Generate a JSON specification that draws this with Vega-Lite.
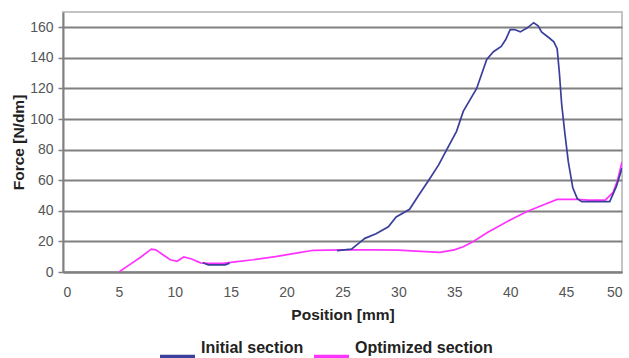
{
  "$schema": "https://vega.github.io/schema/vega-lite/v6.json",
  "width": 559,
  "height": 260,
  "autosize": "none",
  "padding": {"left": 63, "top": 12, "right": 7, "bottom": 86},
  "background": "white",
  "config": {
    "font": "Liberation Sans",
    "view": {"stroke": "#c4c4c4", "strokeWidth": 2},
    "axis": {"labelFont": "Liberation Sans", "titleFont": "Liberation Sans"}
  },
  "data": {
    "values": [
      {"series": "Optimized section", "seg": "o", "pos": 5, "force": 0},
      {"series": "Optimized section", "seg": "o", "pos": 6, "force": 5},
      {"series": "Optimized section", "seg": "o", "pos": 7, "force": 10},
      {"series": "Optimized section", "seg": "o", "pos": 7.9, "force": 15},
      {"series": "Optimized section", "seg": "o", "pos": 8.3, "force": 14.5},
      {"series": "Optimized section", "seg": "o", "pos": 9, "force": 11},
      {"series": "Optimized section", "seg": "o", "pos": 9.6, "force": 8},
      {"series": "Optimized section", "seg": "o", "pos": 10.2, "force": 7},
      {"series": "Optimized section", "seg": "o", "pos": 10.8, "force": 9.8},
      {"series": "Optimized section", "seg": "o", "pos": 11.5, "force": 8.5},
      {"series": "Optimized section", "seg": "o", "pos": 12.3, "force": 6},
      {"series": "Optimized section", "seg": "o", "pos": 13, "force": 5.7},
      {"series": "Optimized section", "seg": "o", "pos": 14.3, "force": 5.7},
      {"series": "Optimized section", "seg": "o", "pos": 15.2, "force": 6.5},
      {"series": "Optimized section", "seg": "o", "pos": 17, "force": 8},
      {"series": "Optimized section", "seg": "o", "pos": 19, "force": 10},
      {"series": "Optimized section", "seg": "o", "pos": 21, "force": 12.5},
      {"series": "Optimized section", "seg": "o", "pos": 22.4, "force": 14.2},
      {"series": "Optimized section", "seg": "o", "pos": 25, "force": 14.5},
      {"series": "Optimized section", "seg": "o", "pos": 28, "force": 14.5},
      {"series": "Optimized section", "seg": "o", "pos": 30, "force": 14.3},
      {"series": "Optimized section", "seg": "o", "pos": 32, "force": 13.5},
      {"series": "Optimized section", "seg": "o", "pos": 33.7, "force": 12.8},
      {"series": "Optimized section", "seg": "o", "pos": 35, "force": 14.5},
      {"series": "Optimized section", "seg": "o", "pos": 35.8, "force": 16.5},
      {"series": "Optimized section", "seg": "o", "pos": 36.7, "force": 20},
      {"series": "Optimized section", "seg": "o", "pos": 38, "force": 26},
      {"series": "Optimized section", "seg": "o", "pos": 40, "force": 34},
      {"series": "Optimized section", "seg": "o", "pos": 41.5, "force": 39.5},
      {"series": "Optimized section", "seg": "o", "pos": 43, "force": 44},
      {"series": "Optimized section", "seg": "o", "pos": 44.2, "force": 47.5},
      {"series": "Optimized section", "seg": "o", "pos": 46, "force": 47.5},
      {"series": "Optimized section", "seg": "o", "pos": 47, "force": 47},
      {"series": "Optimized section", "seg": "o", "pos": 48.5, "force": 47},
      {"series": "Optimized section", "seg": "o", "pos": 49.2, "force": 52},
      {"series": "Optimized section", "seg": "o", "pos": 49.6, "force": 60},
      {"series": "Optimized section", "seg": "o", "pos": 50, "force": 72},
      {"series": "Initial section", "seg": "a", "pos": 12.5, "force": 6},
      {"series": "Initial section", "seg": "a", "pos": 13, "force": 4.7},
      {"series": "Initial section", "seg": "a", "pos": 14.5, "force": 4.7},
      {"series": "Initial section", "seg": "a", "pos": 14.9, "force": 5.8},
      {"series": "Initial section", "seg": "b", "pos": 24.5, "force": 14},
      {"series": "Initial section", "seg": "b", "pos": 25.8, "force": 15},
      {"series": "Initial section", "seg": "b", "pos": 26.5, "force": 19},
      {"series": "Initial section", "seg": "b", "pos": 27, "force": 22},
      {"series": "Initial section", "seg": "b", "pos": 28, "force": 25},
      {"series": "Initial section", "seg": "b", "pos": 29.1, "force": 29.6},
      {"series": "Initial section", "seg": "b", "pos": 29.8, "force": 36},
      {"series": "Initial section", "seg": "b", "pos": 31, "force": 41},
      {"series": "Initial section", "seg": "b", "pos": 31.8, "force": 50},
      {"series": "Initial section", "seg": "b", "pos": 32.8, "force": 61},
      {"series": "Initial section", "seg": "b", "pos": 33.6, "force": 70},
      {"series": "Initial section", "seg": "b", "pos": 34.3, "force": 79.7},
      {"series": "Initial section", "seg": "b", "pos": 35.2, "force": 92},
      {"series": "Initial section", "seg": "b", "pos": 35.8, "force": 105},
      {"series": "Initial section", "seg": "b", "pos": 37, "force": 120},
      {"series": "Initial section", "seg": "b", "pos": 37.9, "force": 139},
      {"series": "Initial section", "seg": "b", "pos": 38.5, "force": 144},
      {"series": "Initial section", "seg": "b", "pos": 39.2, "force": 147.5},
      {"series": "Initial section", "seg": "b", "pos": 39.6, "force": 152},
      {"series": "Initial section", "seg": "b", "pos": 40, "force": 158.5},
      {"series": "Initial section", "seg": "b", "pos": 40.4, "force": 158.5},
      {"series": "Initial section", "seg": "b", "pos": 40.9, "force": 157},
      {"series": "Initial section", "seg": "b", "pos": 41.5, "force": 159.5},
      {"series": "Initial section", "seg": "b", "pos": 42.1, "force": 163},
      {"series": "Initial section", "seg": "b", "pos": 42.5, "force": 161},
      {"series": "Initial section", "seg": "b", "pos": 42.8, "force": 157},
      {"series": "Initial section", "seg": "b", "pos": 43.5, "force": 153},
      {"series": "Initial section", "seg": "b", "pos": 43.9, "force": 150.5},
      {"series": "Initial section", "seg": "b", "pos": 44.2, "force": 146},
      {"series": "Initial section", "seg": "b", "pos": 44.4, "force": 130},
      {"series": "Initial section", "seg": "b", "pos": 44.6, "force": 110},
      {"series": "Initial section", "seg": "b", "pos": 44.9, "force": 90},
      {"series": "Initial section", "seg": "b", "pos": 45.2, "force": 72},
      {"series": "Initial section", "seg": "b", "pos": 45.6, "force": 55},
      {"series": "Initial section", "seg": "b", "pos": 46, "force": 48},
      {"series": "Initial section", "seg": "b", "pos": 46.4, "force": 46},
      {"series": "Initial section", "seg": "b", "pos": 48.9, "force": 46},
      {"series": "Initial section", "seg": "b", "pos": 49.5, "force": 56},
      {"series": "Initial section", "seg": "b", "pos": 50, "force": 68}
    ]
  },
  "mark": {"type": "line", "strokeWidth": 1.7, "clip": true},
  "encoding": {
    "x": {
      "field": "pos", "type": "quantitative",
      "scale": {"domain": [0, 50], "nice": false},
      "axis": {
        "title": "Position [mm]", "values": [0, 5, 10, 15, 20, 25, 30, 35, 40, 45, 50],
        "grid": false, "ticks": false, "domain": true, "domainColor": "#808080", "domainWidth": 2,
        "labelFontSize": 14, "labelColor": "#555555", "labelPadding": 13,
        "titleFontSize": 15.5, "titleFontWeight": "bold", "titleColor": "#222222", "titlePadding": 8
      }
    },
    "y": {
      "field": "force", "type": "quantitative",
      "scale": {"domain": [0, 170], "nice": false},
      "axis": {
        "title": "Force [N/dm]", "values": [0, 20, 40, 60, 80, 100, 120, 140, 160],
        "grid": true, "gridColor": "#808080", "gridWidth": 2,
        "domain": true, "domainColor": "#808080", "domainWidth": 2,
        "ticks": true, "tickSize": 5, "tickColor": "#808080", "tickWidth": 1.5,
        "labelFontSize": 14, "labelColor": "#555555", "labelPadding": 5,
        "titleFontSize": 15.5, "titleFontWeight": "bold", "titleColor": "#222222", "titlePadding": 3
      }
    },
    "color": {
      "field": "series", "type": "nominal",
      "scale": {"domain": ["Initial section", "Optimized section"], "range": ["#3a3f9c", "#ff33ff"]},
      "legend": {
        "title": null, "orient": "none", "direction": "horizontal",
        "legendX": 95, "legendY": 316, "padding": 0,
        "symbolType": "M -1 0.5 L 1 0.5", "symbolSize": 1225, "symbolStrokeWidth": 4,
        "labelFontSize": 16, "labelFontWeight": "bold", "labelColor": "#222222",
        "labelOffset": 4, "columnPadding": 2
      }
    },
    "detail": {"field": "seg", "type": "nominal"}
  }
}
